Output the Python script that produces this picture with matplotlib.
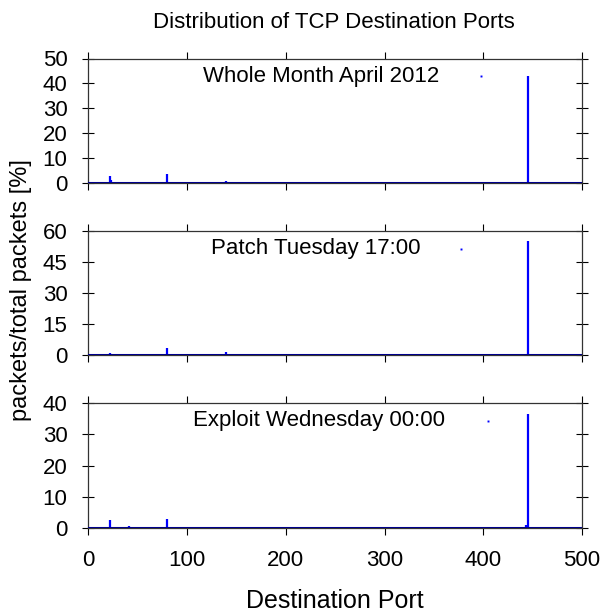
import numpy as np
import matplotlib
matplotlib.use("Agg")
import matplotlib.pyplot as plt

# percent of packets per TCP destination port
ports_month = [22, 23, 41, 80, 137, 139, 210, 445]
pct_month = [2.7, 1.0, 0.3, 3.5, 0.4, 0.5, 0.3, 43.0]

ports_patch = [22, 41, 80, 139, 445]
pct_patch = [1.1, 0.3, 3.5, 1.5, 55.0]

ports_exploit = [22, 41, 80, 139, 443, 445]
pct_exploit = [2.5, 0.4, 2.8, 0.2, 1.0, 36.5]

titles = ["Whole Month April 2012", "Patch Tuesday 17:00", "Exploit Wednesday 00:00"]
yticks = [np.arange(0, 51, 10), np.arange(0, 61, 15), np.arange(0, 41, 10)]
xticks = np.arange(0, 501, 100)

plt.rcParams["font.family"] = ["Liberation Sans", "DejaVu Sans"]

W, H = 603, 616
fig = plt.figure(figsize=(W / 100, H / 100), dpi=100)

# panel geometry in pixels: (top, bottom)
left_px, right_px = 88.3, 582.0
panels_px = [(58.5, 182.7), (231.0, 355.0), (403.3, 527.7)]
# key (text end x, sample x, y) in axes fraction
key_pos = [(0.710, 0.795, 0.859), (0.672, 0.755, 0.855), (0.722, 0.810, 0.858)]

data = [(ports_month, pct_month), (ports_patch, pct_patch), (ports_exploit, pct_exploit)]

for i, ((ports, pct), (top, bot)) in enumerate(zip(data, panels_px)):
    ax = fig.add_axes([left_px / W, 1 - bot / H, (right_px - left_px) / W, (bot - top) / H])
    ax.vlines(ports, 0, pct, color="#0000ff", lw=1.6, zorder=3)
    ax.axhline(0, color="#00008b", lw=2.2, zorder=4)
    ax.set_xlim(0, 500)
    ax.set_ylim(yticks[i][0], yticks[i][-1])
    ax.set_xticks(xticks)
    ax.set_yticks(yticks[i])
    ax.tick_params(axis="x", direction="out", length=5, width=0.8, top=True,
                   labelbottom=(i == 2), labelsize=16, pad=11)
    ax.tick_params(axis="y", direction="inout", length=9, width=0.8, right=True,
                   labelsize=16, pad=10.5)
    for sp in ax.spines.values():
        sp.set_linewidth(0.9)
        sp.set_color("#333333")
    xt, xd, yd = key_pos[i]
    ax.text(xt, yd, titles[i], transform=ax.transAxes, ha="right", va="center",
            fontsize=16)
    ax.plot([xd], [yd], transform=ax.transAxes, marker="s", ms=1.4,
            color="#0000ff", mec="none")

fig.text(334 / W, 1 - 22 / H, "Distribution of TCP Destination Ports",
         ha="center", va="center", fontsize=16)
fig.text(335 / W, 1 - 601 / H, "Destination Port", ha="center", va="center",
         fontsize=18)
fig.text(21 / W, 1 - 290 / H, "packets/total packets [%]", ha="center",
         va="center", rotation=90, fontsize=17)

fig.savefig("out.png", dpi=100)
